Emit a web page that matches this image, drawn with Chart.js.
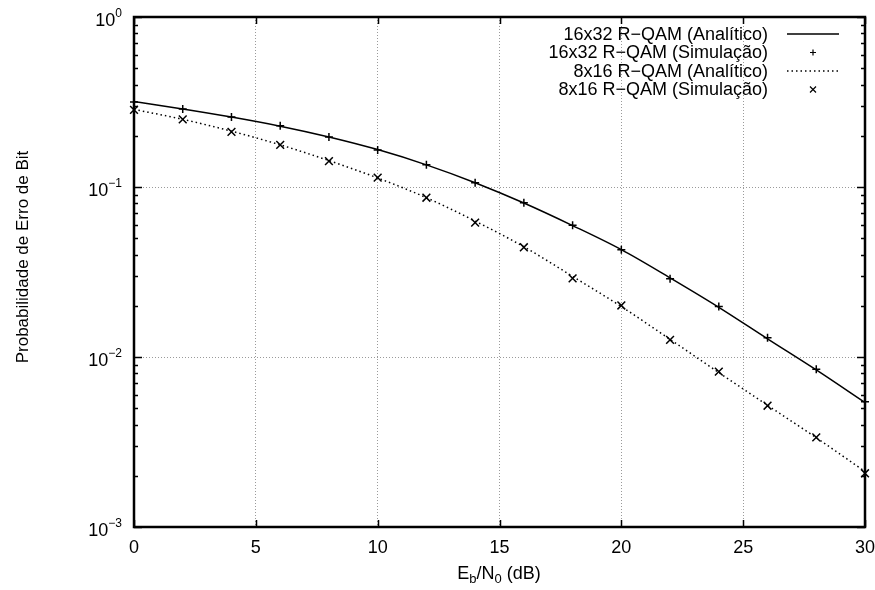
<!DOCTYPE html>
<html><head><meta charset="utf-8">
<script src="https://cdn.jsdelivr.net/npm/chart.js@4/dist/chart.umd.min.js"></script>
<style>html,body{margin:0;padding:0;background:#fff}#wrap{width:875px;height:590px}</style>
</head><body><div id="wrap"><canvas id="c" width="875" height="590"></canvas></div>
<script>
// ---- data ----
const ebn0 = [0,2,4,6,8,10,12,14,16,18,20,22,24,26,28,30];
const ana16x32 = [0.318,0.288,0.258,0.228,0.197,0.166,0.135,0.106,0.0805,0.0593,0.0428,0.0292,0.0196,0.0128,0.0084,0.0054];
const sim16x32 = [0.316,0.288,0.258,0.229,0.197,0.165,0.135,0.106,0.0809,0.0595,0.0428,0.0289,0.0198,0.0130,0.00847,0.00546];
const ana8x16  = [0.286,0.250,0.213,0.177,0.143,0.113,0.0865,0.0630,0.0445,0.0298,0.0198,0.0127,0.0081,0.0052,0.00335,0.00212];
const sim8x16  = [0.284,0.250,0.211,0.177,0.142,0.1135,0.0865,0.0617,0.0442,0.0290,0.0201,0.0126,0.0082,0.00517,0.00337,0.00207];
const xTickValues = [0,5,10,15,20,25,30];
const yDecadeExps = [0,-1,-2,-3];
const seriesLabels = ['16x32 R\u2212QAM (Anal\u00edtico)','16x32 R\u2212QAM (Simula\u00e7\u00e3o)','8x16 R\u2212QAM (Anal\u00edtico)','8x16 R\u2212QAM (Simula\u00e7\u00e3o)'];
const xTitle = ['E','b','/N','0',' (dB)'];
const yTitle = 'Probabilidade de Erro de Bit';

const FONT = '"Liberation Sans", Arial, Helvetica, sans-serif';
const toXY = arr => arr.map((v,i)=>({x: ebn0[i], y: v}));

const decorations = {
  id: 'decorations',
  beforeDatasetsDraw(chart) {
    const {ctx, chartArea: a, scales: {x, y}} = chart;
    ctx.save();
    ctx.strokeStyle = '#000';
    ctx.lineWidth = 1.5;
    for (let e = -3; e <= 0; e++) {
      for (let m = 1; m <= 9; m++) {
        const v = m * Math.pow(10, e);
        if (v > 1.0000001) break;
        const py = Math.round(y.getPixelForValue(v)) + 0.5;
        const len = (m === 1) ? 8 : 4;
        ctx.beginPath();
        ctx.moveTo(a.left, py); ctx.lineTo(a.left + len, py);
        ctx.moveTo(a.right, py); ctx.lineTo(a.right - len, py);
        ctx.stroke();
      }
    }
    xTickValues.forEach(v => {
      const px = Math.round(x.getPixelForValue(v)) + 0.5;
      ctx.beginPath();
      ctx.moveTo(px, a.bottom); ctx.lineTo(px, a.bottom - 7);
      ctx.moveTo(px, a.top); ctx.lineTo(px, a.top + 7);
      ctx.stroke();
    });
    ctx.lineWidth = 2.5;
    ctx.strokeRect(a.left, a.top, a.right - a.left, a.bottom - a.top);
    ctx.restore();
  },
  afterDraw(chart) {
    const {ctx, chartArea: a, scales: {x, y}} = chart;
    ctx.save();
    ctx.fillStyle = '#000';
    // x tick labels
    ctx.font = '18px ' + FONT;
    ctx.textAlign = 'center'; ctx.textBaseline = 'alphabetic';
    xTickValues.forEach(v => ctx.fillText(String(v), x.getPixelForValue(v), a.bottom + 26));
    // y tick labels 10^e
    yDecadeExps.forEach(e => {
      const py = y.getPixelForValue(Math.pow(10, e));
      const expStr = e === 0 ? '0' : '\u2212' + Math.abs(e);
      ctx.font = '12px ' + FONT;
      const ew = ctx.measureText(expStr).width;
      const rightEdge = a.left - 12;
      ctx.textAlign = 'left'; ctx.textBaseline = 'alphabetic';
      ctx.fillText(expStr, rightEdge - ew, py - 0.5);
      ctx.font = '18px ' + FONT;
      ctx.textAlign = 'right';
      ctx.fillText('10', rightEdge - ew, py + 9);
    });
    // x title with subscripts
    const parts = xTitle.map((t, i) => ({t, sub: i === 1 || i === 3}));
    let total = 0;
    parts.forEach(p => { ctx.font = (p.sub ? '13px ' : '18px ') + FONT; p.w = ctx.measureText(p.t).width; total += p.w; });
    let cx = 499 - total / 2;
    const by = a.bottom + 52;
    ctx.textAlign = 'left'; ctx.textBaseline = 'alphabetic';
    parts.forEach(p => {
      ctx.font = (p.sub ? '13px ' : '18px ') + FONT;
      ctx.fillText(p.t, cx, p.sub ? by + 4 : by);
      cx += p.w;
    });
    // y title
    ctx.save();
    ctx.translate(23, 257);
    ctx.rotate(-Math.PI / 2);
    ctx.font = '17px ' + FONT;
    ctx.textAlign = 'center'; ctx.textBaseline = 'middle';
    ctx.fillText(yTitle, 0, 0);
    ctx.restore();
    // legend
    const textRight = a.right - 97, sx0 = a.right - 78, sx1 = a.right - 26, mx = a.right - 52;
    const rows = [a.top + 17, a.top + 35.5, a.top + 54, a.top + 72.5];
    ctx.font = '18px ' + FONT;
    ctx.textAlign = 'right'; ctx.textBaseline = 'middle';
    seriesLabels.forEach((lab, i) => ctx.fillText(lab, textRight, rows[i] + 1));
    ctx.strokeStyle = '#000';
    ctx.lineWidth = 1.5;
    ctx.beginPath(); ctx.moveTo(sx0, rows[0]); ctx.lineTo(sx1, rows[0]); ctx.stroke();
    ctx.setLineDash([1.5, 3]);
    ctx.beginPath(); ctx.moveTo(sx0, rows[2]); ctx.lineTo(sx1, rows[2]); ctx.stroke();
    ctx.setLineDash([]);
    ctx.lineWidth = 1.2;
    const r = 3;
    ctx.beginPath();
    ctx.moveTo(mx - r, rows[1]); ctx.lineTo(mx + r, rows[1]);
    ctx.moveTo(mx, rows[1] - r); ctx.lineTo(mx, rows[1] + r);
    ctx.moveTo(mx - r, rows[3] - r); ctx.lineTo(mx + r, rows[3] + r);
    ctx.moveTo(mx - r, rows[3] + r); ctx.lineTo(mx + r, rows[3] - r);
    ctx.stroke();
    ctx.restore();
  }
};

const gridColor = ctx => (ctx.tick && (ctx.tick.value === 0 || ctx.tick.value === 30 || ctx.tick.value === 1 || ctx.tick.value === 0.001)) ? 'rgba(0,0,0,0)' : '#9a9a9a';

new Chart(document.getElementById('c'), {
  type: 'line',
  data: {
    datasets: [
      {label: seriesLabels[0], data: toXY(ana16x32), borderColor: '#000', borderWidth: 1.5, pointRadius: 0, cubicInterpolationMode: 'monotone', fill: false, order: 2},
      {label: seriesLabels[1], data: toXY(sim16x32), showLine: false, pointStyle: 'cross', pointRadius: 4, borderColor: '#000', pointBorderWidth: 1.5, clip: false, order: 1},
      {label: seriesLabels[2], data: toXY(ana8x16), borderColor: '#000', borderWidth: 1.5, borderDash: [1.5, 3], pointRadius: 0, cubicInterpolationMode: 'monotone', fill: false, order: 2},
      {label: seriesLabels[3], data: toXY(sim8x16), showLine: false, pointStyle: 'crossRot', pointRadius: 5.5, borderColor: '#000', pointBorderWidth: 1.5, clip: false, order: 1}
    ]
  },
  options: {
    responsive: false,
    animation: false,
    devicePixelRatio: 1,
    layout: {padding: {left: 134, right: 10, top: 17, bottom: 63}},
    plugins: {legend: {display: false}, tooltip: {enabled: false}},
    scales: {
      x: {
        type: 'linear', min: 0, max: 30,
        afterBuildTicks: s => { s.ticks = xTickValues.map(v => ({value: v})); },
        afterFit: s => { s.height = 0; },
        ticks: {display: false},
        grid: {color: gridColor, lineWidth: 1, drawTicks: false},
        border: {display: false, dash: [1, 2]}
      },
      y: {
        type: 'logarithmic', min: 0.001, max: 1,
        afterBuildTicks: s => { s.ticks = yDecadeExps.map(e => ({value: Math.pow(10, e), major: true})); },
        afterFit: s => { s.width = 0; },
        ticks: {display: false},
        grid: {color: gridColor, lineWidth: 1, drawTicks: false},
        border: {display: false, dash: [1, 2]}
      }
    }
  },
  plugins: [decorations]
});
</script>
</body></html>
